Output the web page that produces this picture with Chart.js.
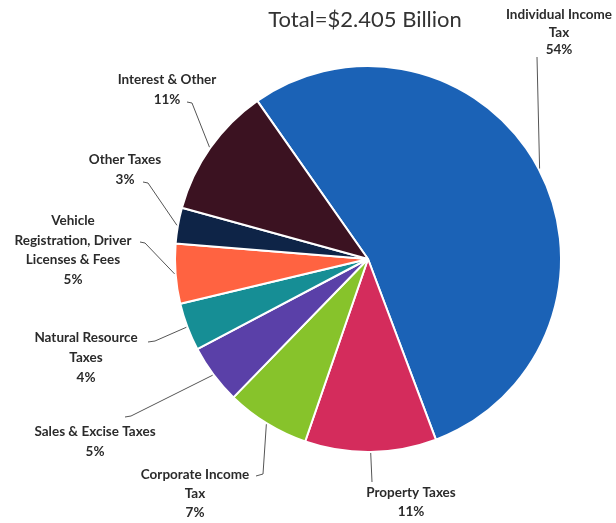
<!DOCTYPE html>
<html>
<head>
<meta charset="utf-8">
<title>Revenue by Source</title>
<script src="https://cdn.jsdelivr.net/npm/chart.js@4/dist/chart.umd.min.js"></script>
<style>
    html, body { margin: 0; padding: 0; background: #fff; }
    #wrap { width: 616px; height: 523px; position: relative; }
</style>
</head>
<body>
<div id="wrap"><canvas id="revenueChart" width="616" height="523"></canvas></div>
<script>
// Revenue sources, share of total (%)
const categories = [
    'Individual Income\nTax',
    'Property Taxes',
    'Corporate Income\nTax',
    'Sales & Excise Taxes',
    'Natural Resource\nTaxes',
    'Vehicle\nRegistration, Driver\nLicenses & Fees',
    'Other Taxes',
    'Interest & Other'
];
const shares = [54, 11, 7, 5, 4, 5, 3, 11];
const sliceColors = ['#1b62b6', '#d42c5c', '#87c32b', '#5a40a8', '#168e95', '#ff6341', '#0e2447', '#3b1221'];
const titleText = 'Total=$2.405 Billion';

// where each label block sits and how its leader line bends before reaching the slice
const labelLayout = [
    { x: 559, y: 15, step: 17.5, leader: [[537, 57]] },
    { x: 411, y: 493, step: 19, leader: [[372, 482]] },
    { x: 195, y: 475, step: 19, leader: [[256, 476], [263, 474]] },
    { x: 95, y: 432, step: 20, leader: [[125, 417], [131, 416]] },
    { x: 86, y: 338, step: 20, leader: [[148, 342], [155, 341]] },
    { x: 73, y: 221, step: 19.5, leader: [[140, 242], [145, 243]] },
    { x: 125, y: 160, step: 20, leader: [[143, 182], [148, 183]] },
    { x: 167, y: 80, step: 20, leader: [[187, 102], [192, 103]] }
];

const calloutLabels = {
    id: 'calloutLabels',
    afterDatasetsDraw(chart) {
        const ctx = chart.ctx;
        const meta = chart.getDatasetMeta(0);
        ctx.save();

        // title
        ctx.fillStyle = '#333';
        ctx.font = '22px Lato, sans-serif';
        ctx.textAlign = 'center';
        ctx.textBaseline = 'middle';
        ctx.fillText(titleText, 365, 20);

        meta.data.forEach((arc, i) => {
            const p = arc.getProps(['x', 'y', 'startAngle', 'endAngle', 'outerRadius'], true);
            const mid = (p.startAngle + p.endAngle) / 2;
            const ex = p.x + Math.cos(mid) * (p.outerRadius + 1);
            const ey = p.y + Math.sin(mid) * (p.outerRadius + 1);
            const lay = labelLayout[i];

            // leader line
            ctx.strokeStyle = '#555';
            ctx.lineWidth = 1;
            ctx.beginPath();
            lay.leader.forEach((pt, k) => k === 0 ? ctx.moveTo(pt[0], pt[1]) : ctx.lineTo(pt[0], pt[1]));
            ctx.lineTo(ex, ey);
            ctx.stroke();

            // label text
            const lines = categories[i].split('\n').concat(shares[i] + '%');
            ctx.fillStyle = '#2b2b2b';
            ctx.font = 'bold 13.5px Lato, sans-serif';
            lines.forEach((t, k) => ctx.fillText(t, lay.x, lay.y + k * lay.step));
        });
        ctx.restore();
    }
};

new Chart(document.getElementById('revenueChart'), {
    type: 'pie',
    data: {
        labels: categories,
        datasets: [{
            data: shares,
            backgroundColor: sliceColors,
            borderColor: '#fff',
            borderWidth: 2
        }]
    },
    options: {
        responsive: false,
        animation: false,
        rotation: -35,
        layout: { padding: { left: 174, right: 54, top: 65, bottom: 70 } },
        plugins: {
            legend: { display: false },
            tooltip: { enabled: false }
        }
    },
    plugins: [calloutLabels]
});
</script>
</body>
</html>
